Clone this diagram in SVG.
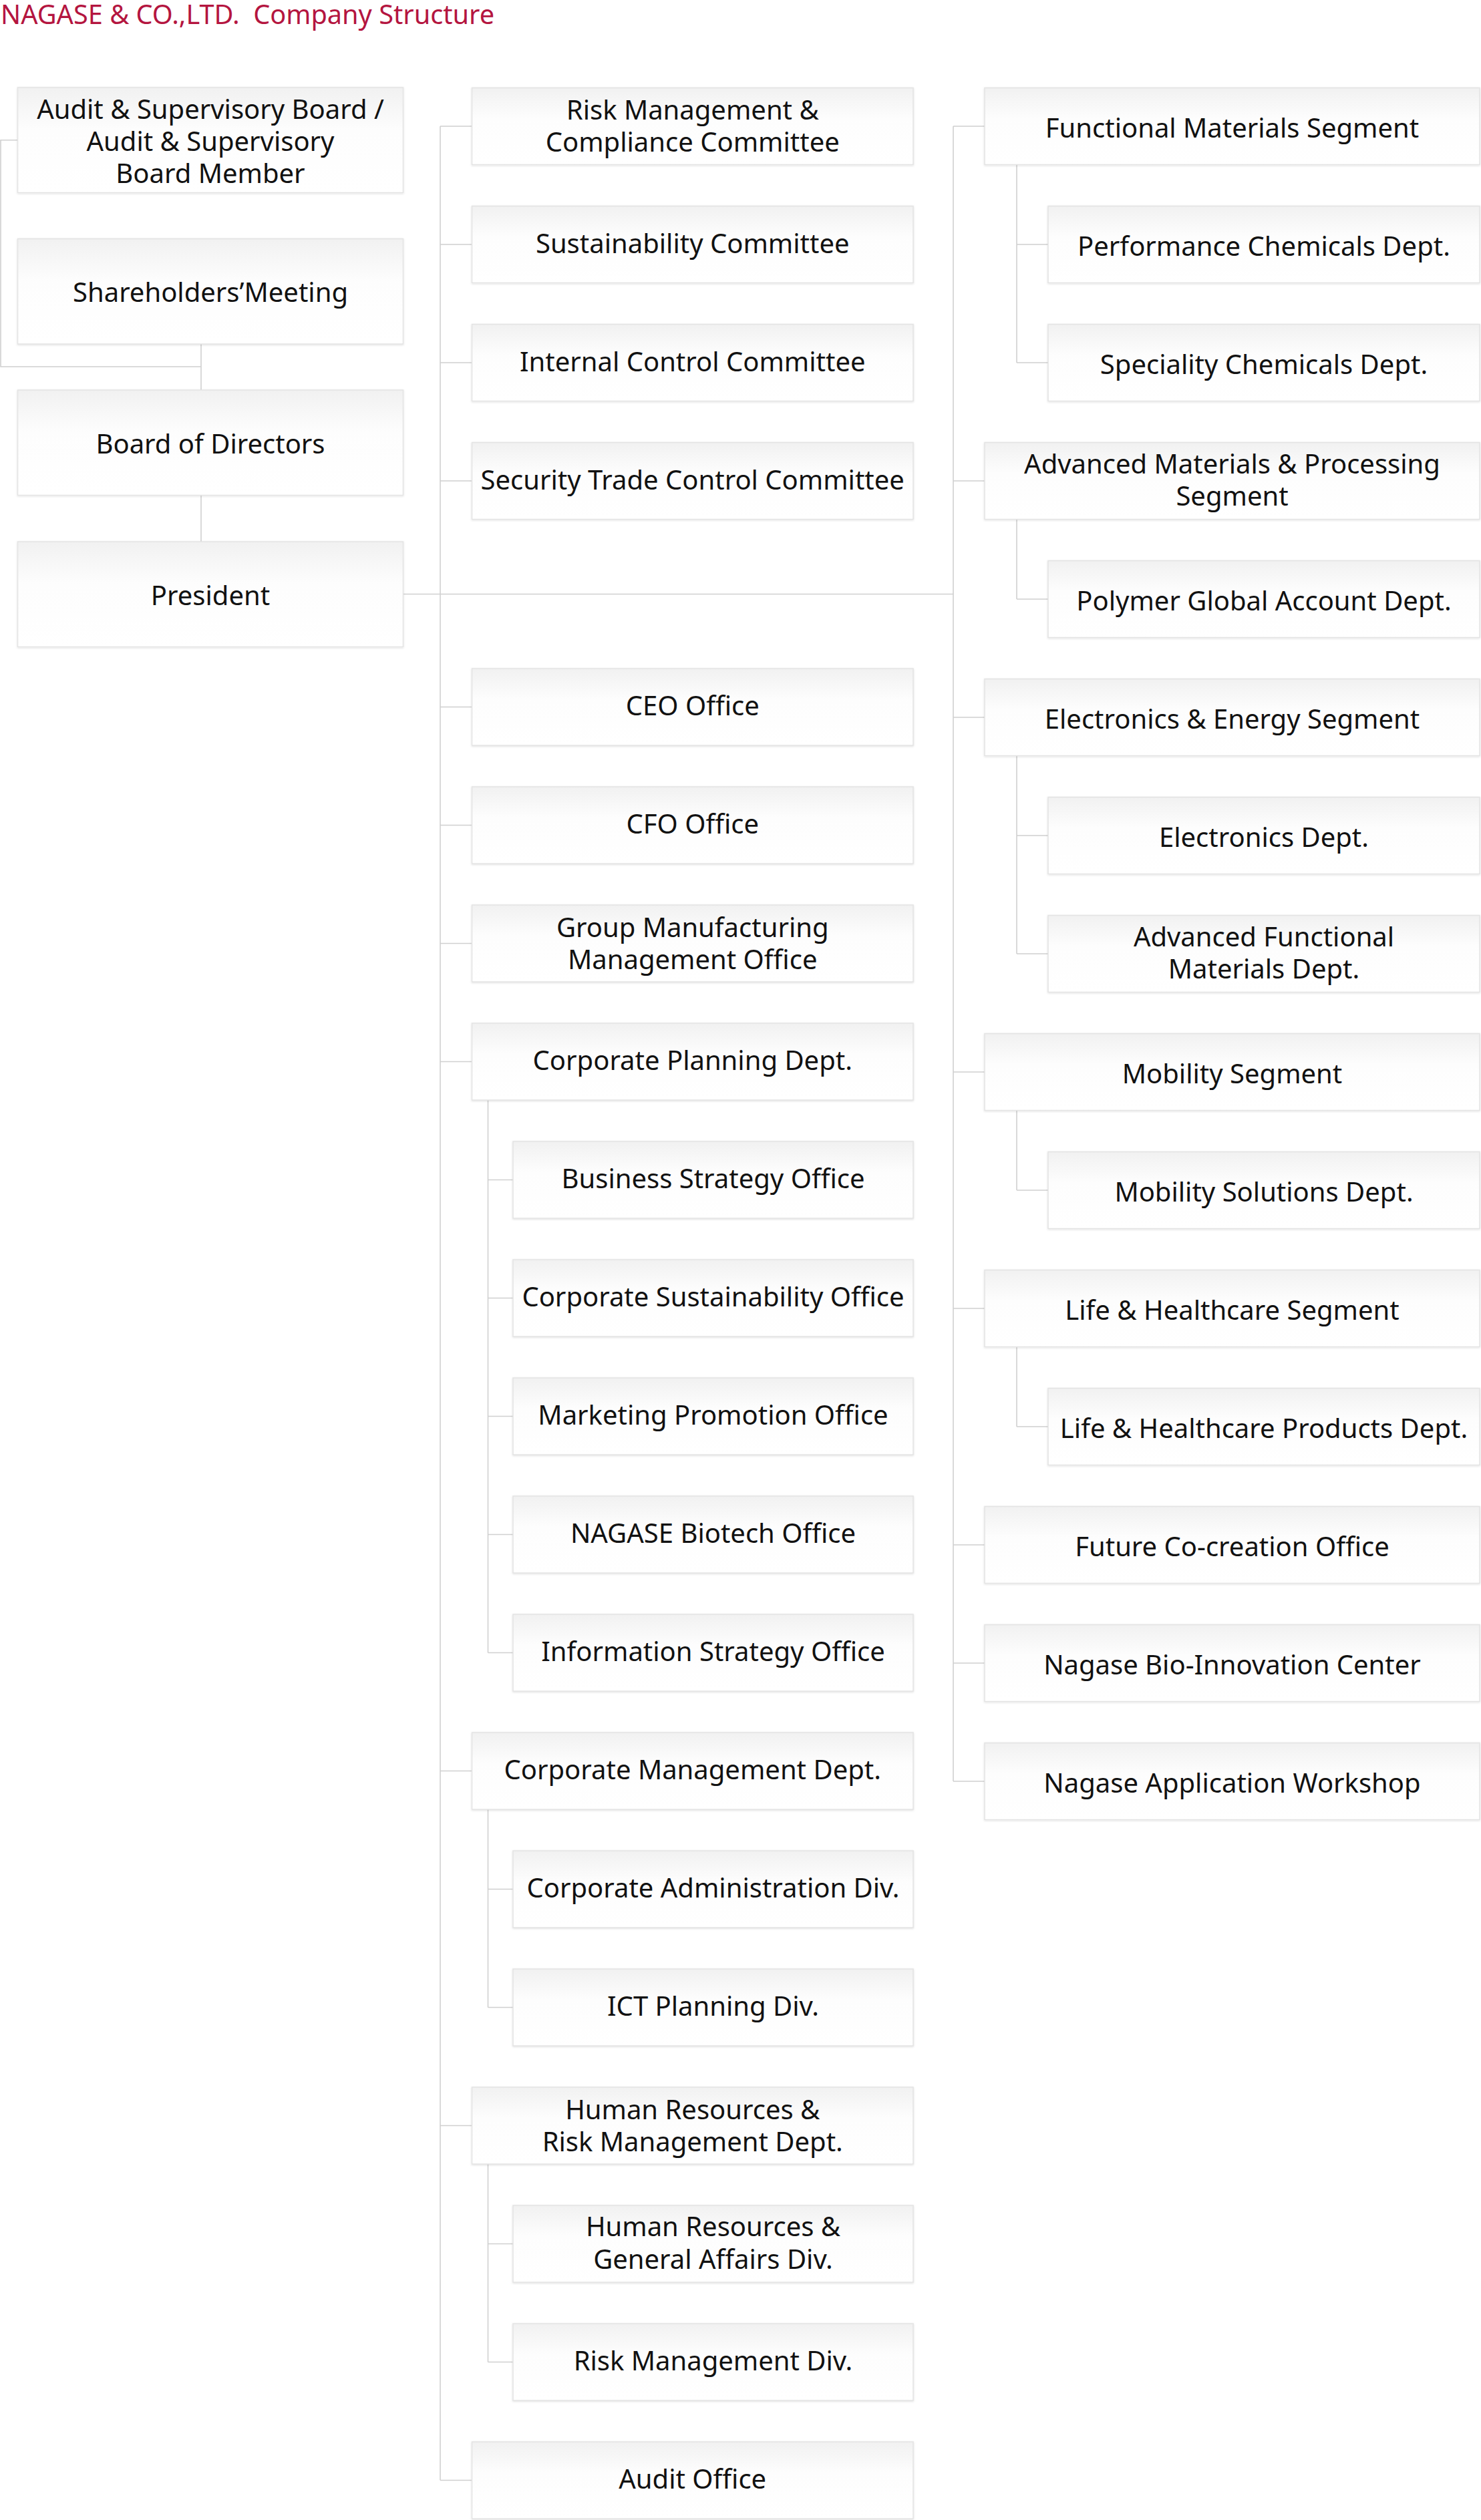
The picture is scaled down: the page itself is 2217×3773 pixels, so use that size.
<svg xmlns="http://www.w3.org/2000/svg" width="2217" height="3773" viewBox="0 0 2217 3773">
<defs>
<linearGradient id="g" x1="0" y1="0" x2="0" y2="1">
<stop offset="0" stop-color="#f1f1f1"/>
<stop offset="0.4" stop-color="#fdfdfd"/>
<stop offset="1" stop-color="#ffffff"/>
</linearGradient>
<filter id="sh" x="-3%" y="-8%" width="106%" height="120%">
<feDropShadow dx="0" dy="1" stdDeviation="1.6" flood-color="#000" flood-opacity="0.13"/>
</filter>
<style>
.box{fill:url(#g);stroke:#e3e3e3;stroke-width:1.5;filter:url(#sh)}
.t{font-family:"Noto Sans","Open Sans",sans-serif;font-size:40px;fill:#111;text-anchor:middle}
.c{stroke:#d0d0d0;stroke-width:1.6;fill:none}
.title{font-family:"Noto Sans","Open Sans",sans-serif;font-size:39.7px;fill:#b4153f}
</style>
</defs>
<rect x="0" y="0" width="2217" height="3773" fill="#ffffff"/>
<text class="title" x="1" y="35.5">NAGASE &amp; CO.,LTD. &#160;Company Structure</text>

<g id="connectors">
<path class="c" d="M26.5 209.75 H1 V549 H301"/>
<path class="c" d="M301 515 V584"/>
<path class="c" d="M301 741.5 V811"/>
<path class="c" d="M603.5 889.5 H1427"/>
<path class="c" d="M659 189 V3713.5"/>
<path class="c" d="M659 189 H706.5 M659 366 H706.5 M659 543 H706.5 M659 720 H706.5 M659 1058.5 H706.5 M659 1235.5 H706.5 M659 1412.5 H706.5 M659 1589.5 H706.5 M659 2651.5 H706.5 M659 3182.5 H706.5 M659 3713.5 H706.5"/>
<path class="c" d="M730.5 1647 V2474.5 M730.5 2709 V3005.5 M730.5 3240 V3536.5"/>
<path class="c" d="M730.5 1766.5 H768 M730.5 1943.5 H768 M730.5 2120.5 H768 M730.5 2297.5 H768 M730.5 2474.5 H768 M730.5 2828.5 H768 M730.5 3005.5 H768 M730.5 3359.5 H768 M730.5 3536.5 H768"/>
<path class="c" d="M1427 189 V2667"/>
<path class="c" d="M1427 189 H1474 M1427 720 H1474 M1427 1074 H1474 M1427 1605 H1474 M1427 1959 H1474 M1427 2313 H1474 M1427 2490 H1474 M1427 2667 H1474"/>
<path class="c" d="M1522 246.5 V543 M1522 777.5 V897 M1522 1131.5 V1428 M1522 1662.5 V1782 M1522 2016.5 V2136"/>
<path class="c" d="M1522 366 H1569 M1522 543 H1569 M1522 897 H1569 M1522 1251 H1569 M1522 1428 H1569 M1522 1782 H1569 M1522 2136 H1569"/>
</g>

<!-- Left column -->
<g id="audit-board"><rect class="box" x="26.5" y="131" width="577" height="157.5"/><text class="t" x="315" y="178">Audit &amp; Supervisory Board /</text><text class="t" x="315" y="226">Audit &amp; Supervisory</text><text class="t" x="315" y="274">Board Member</text></g>
<g id="shareholders"><rect class="box" x="26.5" y="357.5" width="577" height="157.5"/><text class="t" x="315" y="452">Shareholders’Meeting</text></g>
<g id="board"><rect class="box" x="26.5" y="584" width="577" height="157.5"/><text class="t" x="315" y="679">Board of Directors</text></g>
<g id="president"><rect class="box" x="26.5" y="811" width="577" height="157.5"/><text class="t" x="315" y="906">President</text></g>

<!-- Middle column -->
<g id="risk-compliance"><rect class="box" x="706.5" y="131.5" width="660.5" height="115"/><text class="t" x="1036.75" y="179">Risk Management &amp;</text><text class="t" x="1036.75" y="227">Compliance Committee</text></g>
<g id="sustainability"><rect class="box" x="706.5" y="308.5" width="660.5" height="115"/><text class="t" x="1036.75" y="378.5">Sustainability Committee</text></g>
<g id="internal-control"><rect class="box" x="706.5" y="485.5" width="660.5" height="115"/><text class="t" x="1036.75" y="555.5">Internal Control Committee</text></g>
<g id="security-trade"><rect class="box" x="706.5" y="662.5" width="660.5" height="115"/><text class="t" x="1036.75" y="732.5">Security Trade Control Committee</text></g>
<g id="ceo"><rect class="box" x="706.5" y="1001" width="660.5" height="115"/><text class="t" x="1036.75" y="1071">CEO Office</text></g>
<g id="cfo"><rect class="box" x="706.5" y="1178" width="660.5" height="115"/><text class="t" x="1036.75" y="1248">CFO Office</text></g>
<g id="group-manufacturing"><rect class="box" x="706.5" y="1355" width="660.5" height="115"/><text class="t" x="1036.75" y="1402.5">Group Manufacturing</text><text class="t" x="1036.75" y="1450.5">Management Office</text></g>
<g id="corporate-planning"><rect class="box" x="706.5" y="1532" width="660.5" height="115"/><text class="t" x="1036.75" y="1602">Corporate Planning Dept.</text></g>
<g id="business-strategy"><rect class="box" x="768" y="1709" width="599" height="115"/><text class="t" x="1067.5" y="1779">Business Strategy Office</text></g>
<g id="corporate-sustainability"><rect class="box" x="768" y="1886" width="599" height="115"/><text class="t" x="1067.5" y="1956">Corporate Sustainability Office</text></g>
<g id="marketing-promotion"><rect class="box" x="768" y="2063" width="599" height="115"/><text class="t" x="1067.5" y="2133">Marketing Promotion Office</text></g>
<g id="nagase-biotech"><rect class="box" x="768" y="2240" width="599" height="115"/><text class="t" x="1067.5" y="2310">NAGASE Biotech Office</text></g>
<g id="information-strategy"><rect class="box" x="768" y="2417" width="599" height="115"/><text class="t" x="1067.5" y="2487">Information Strategy Office</text></g>
<g id="corporate-management"><rect class="box" x="706.5" y="2594" width="660.5" height="115"/><text class="t" x="1036.75" y="2664">Corporate Management Dept.</text></g>
<g id="corporate-administration"><rect class="box" x="768" y="2771" width="599" height="115"/><text class="t" x="1067.5" y="2841">Corporate Administration Div.</text></g>
<g id="ict-planning"><rect class="box" x="768" y="2948" width="599" height="115"/><text class="t" x="1067.5" y="3018">ICT Planning Div.</text></g>
<g id="hr-risk"><rect class="box" x="706.5" y="3125" width="660.5" height="115"/><text class="t" x="1036.75" y="3172.5">Human Resources &amp;</text><text class="t" x="1036.75" y="3220.5">Risk Management Dept.</text></g>
<g id="hr-general"><rect class="box" x="768" y="3302" width="599" height="115"/><text class="t" x="1067.5" y="3348">Human Resources &amp;</text><text class="t" x="1067.5" y="3396.5">General Affairs Div.</text></g>
<g id="risk-management-div"><rect class="box" x="768" y="3479" width="599" height="115"/><text class="t" x="1067.5" y="3549">Risk Management Div.</text></g>
<g id="audit-office"><rect class="box" x="706.5" y="3656" width="660.5" height="115"/><text class="t" x="1036.75" y="3726">Audit Office</text></g>

<!-- Right column -->
<g id="functional-materials"><rect class="box" x="1474" y="131.5" width="741" height="115"/><text class="t" x="1844.5" y="206">Functional Materials Segment</text></g>
<g id="performance-chemicals"><rect class="box" x="1569" y="308.5" width="646" height="115"/><text class="t" x="1892" y="383">Performance Chemicals Dept.</text></g>
<g id="speciality-chemicals"><rect class="box" x="1569" y="485.5" width="646" height="115"/><text class="t" x="1892" y="560">Speciality Chemicals Dept.</text></g>
<g id="advanced-materials"><rect class="box" x="1474" y="662.5" width="741" height="115"/><text class="t" x="1844.5" y="709">Advanced Materials &amp; Processing</text><text class="t" x="1844.5" y="757">Segment</text></g>
<g id="polymer-global"><rect class="box" x="1569" y="839.5" width="646" height="115"/><text class="t" x="1892" y="914">Polymer Global Account Dept.</text></g>
<g id="electronics-energy"><rect class="box" x="1474" y="1016.5" width="741" height="115"/><text class="t" x="1844.5" y="1091">Electronics &amp; Energy Segment</text></g>
<g id="electronics-dept"><rect class="box" x="1569" y="1193.5" width="646" height="115"/><text class="t" x="1892" y="1268">Electronics Dept.</text></g>
<g id="advanced-functional"><rect class="box" x="1569" y="1370.5" width="646" height="115"/><text class="t" x="1892" y="1416.5">Advanced Functional</text><text class="t" x="1892" y="1464.5">Materials Dept.</text></g>
<g id="mobility"><rect class="box" x="1474" y="1547.5" width="741" height="115"/><text class="t" x="1844.5" y="1622">Mobility Segment</text></g>
<g id="mobility-solutions"><rect class="box" x="1569" y="1724.5" width="646" height="115"/><text class="t" x="1892" y="1799">Mobility Solutions Dept.</text></g>
<g id="life-healthcare"><rect class="box" x="1474" y="1901.5" width="741" height="115"/><text class="t" x="1844.5" y="1976">Life &amp; Healthcare Segment</text></g>
<g id="life-healthcare-products"><rect class="box" x="1569" y="2078.5" width="646" height="115"/><text class="t" x="1892" y="2153">Life &amp; Healthcare Products Dept.</text></g>
<g id="future-cocreation"><rect class="box" x="1474" y="2255.5" width="741" height="115"/><text class="t" x="1844.5" y="2330">Future Co-creation Office</text></g>
<g id="bio-innovation"><rect class="box" x="1474" y="2432.5" width="741" height="115"/><text class="t" x="1844.5" y="2507">Nagase Bio-Innovation Center</text></g>
<g id="application-workshop"><rect class="box" x="1474" y="2609.5" width="741" height="115"/><text class="t" x="1844.5" y="2684">Nagase Application Workshop</text></g>
</svg>
